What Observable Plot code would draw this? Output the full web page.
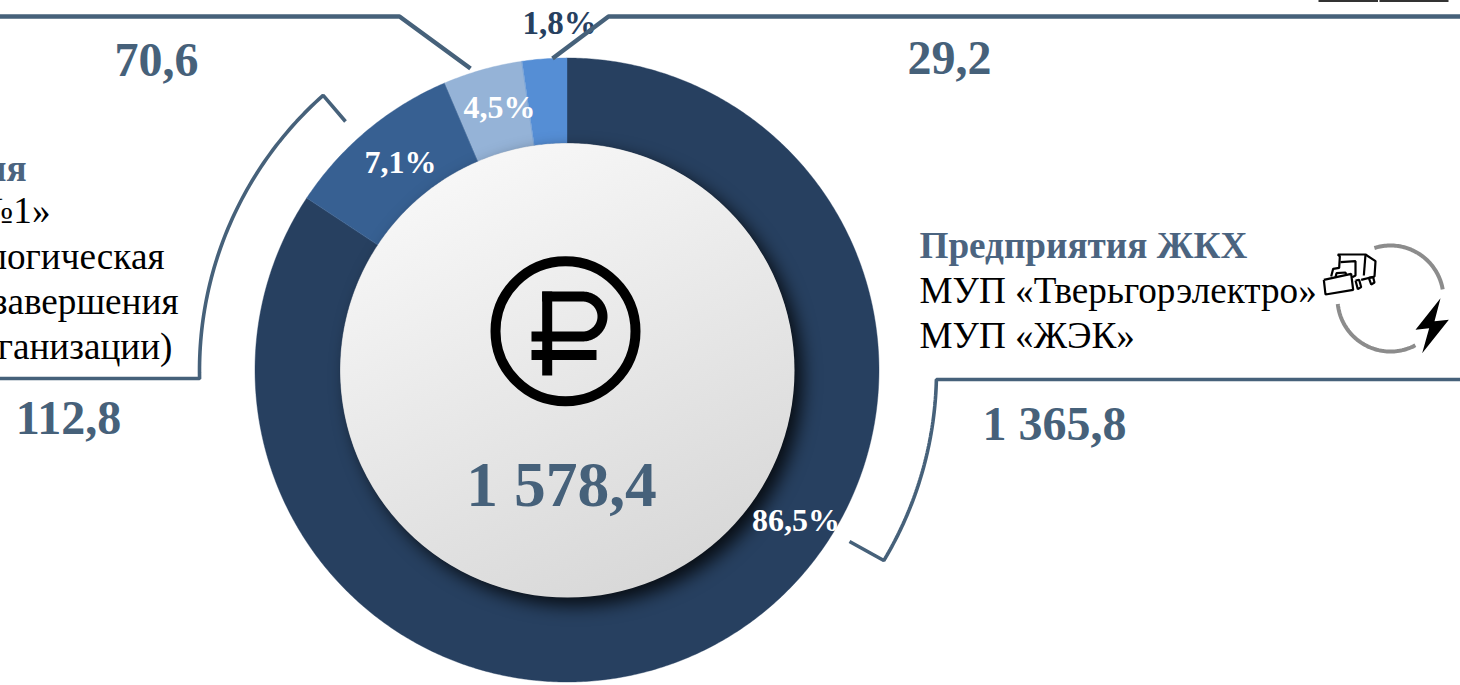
<!DOCTYPE html>
<html lang="ru">
<head>
<meta charset="utf-8">
<script src="https://cdn.jsdelivr.net/npm/d3@7"></script>
<script src="https://cdn.jsdelivr.net/npm/@observablehq/plot@0.6"></script>
<style>
html,body{margin:0;padding:0;background:#fff;overflow:hidden}
svg{display:block}
svg [fill="url(#disk)"]{filter:drop-shadow(8px 8px 9px rgba(0,0,0,.8))}
</style>
</head>
<body>
<div id="chart"></div>
<script>
// --- Data ---
const amounts = [1365.8, 112.8, 70.6, 29.2];
const amountLabels = ["1 365,8", "112,8", "70,6", "29,2"];
const percentLabels = ["86,5%", "7,1%", "4,5%", "1,8%"];
const drawnShares = [84.3, 9.3, 4.1, 2.3]; // arc shares as drawn in the picture
const sliceColors = ["#274060", "#376092", "#95B3D7", "#558ED5"];
const totalLabel = "1 578,4";
const rightLines = ["Предприятия ЖКХ", "МУП «Тверьгорэлектро»", "МУП «ЖЭК»"];
const leftLines = ["ия", "№1»", "технологическая", "завершения", "организации)"];

// --- Layout ---
const W = 1460, H = 685, cx = 567, cy = 370, rOut = 312, rIn = 227, rLead = 369;
const ink = "#46617A", serif = "Liberation Serif";
const polar = (r, deg, c = [cx, cy]) => [c[0] + r * Math.sin(deg * Math.PI / 180), c[1] - r * Math.cos(deg * Math.PI / 180)];
const arc = (r, a, b, c) => d3.range(0, 61).map(i => polar(r, a + (b - a) * i / 60, c));

let cum = 0;
const ringRows = drawnShares.flatMap((s, i) => {
  const a = cum * 3.6, b = (cum + s) * 3.6; cum += s;
  const n = Math.max(2, Math.ceil((b - a) * 2));
  return d3.range(n + 1).map(k => {
    const t = a + (b - a) * k / n, p = polar(rIn, t), q = polar(rOut, t);
    return {slice: amountLabels[i], amount: amounts[i], x1: p[0], y1: p[1], x2: q[0], y2: q[1]};
  });
});

const leaders = [
  {w: 4.4, pts: [[-5, 16], [399, 16], [470, 68]]},
  {w: 4.4, pts: [[552, 58], [608, 16], [1465, 16]]},
  {w: 3.6, pts: [[-5, 378], [199, 378], ...arc(368, -91.2, -41.6), [345, 121]]},
  {w: 3.6, pts: [[1465, 379], [936, 379], ...arc(rLead, 91.5, 121), [849, 541]]}
];

const bowl = arc(20, 0, 180, [582, 316]);
const rubleStrokes = [
  [[546.7, 291], [546.7, 375]],
  [[541.7, 296], ...bowl, [531, 336]],
  [[531, 354.5], [596, 354.5]]
];
const z = (X, Y) => [1300 + X / 3, 230 + Y / 3];
const truck = [
  [z(70,148), z(152,130), z(158,178), z(75,192), z(70,148)],
  [z(92,138), z(98,115), z(116,112), z(118,78), z(112,72), z(195,72), z(225,92), z(222,138), z(182,148)],
  [z(120,95), z(165,92), z(165,135), z(155,140)],
  [z(105,140), z(108,128), z(135,126), z(138,135)],
  [z(195,72), z(190,135)],
  [z(165,150), z(172,176), z(182,170), z(176,148), z(165,150)],
  [z(205,142), z(212,162), z(222,156), z(218,140), z(205,142)]
];
const bolt = [z(420,203), z(345,298), z(386,293), z(365,368), z(445,268), z(402,272)];
const ringArcs = [arc(53, -17.7, 80, [1390, 298]), arc(53, 152, 264, [1390, 298])];

const lineMark = (pts, o) => Plot.line(pts, {x: d => d[0], y: d => d[1], curve: "linear", strokeLinejoin: "miter", strokeLinecap: "butt", ...o});
const textMark = (t, x, y, o) => Plot.text([t], {x: () => x, y: () => y, text: d => d, lineAnchor: "bottom", fontFamily: serif, ...o});

const defs = () => {
  const s = d3.create("svg:defs");
  const g = s.append("linearGradient").attr("id", "disk").attr("x1", .2).attr("y1", .05).attr("x2", .65).attr("y2", 1);
  g.append("stop").attr("offset", 0).attr("stop-color", "#f8f8f8");
  g.append("stop").attr("offset", 1).attr("stop-color", "#d8d8d8");
  return s.node();
};

const valuePos = [[1054, 439], [68, 433], [156, 75], [949, 73]];
const percentPos = [[795.5, 530], [400, 172], [499, 117], [559, 33]];
const rightBase = [257, 302, 347];
const leftEnd = [26, 50, 164, 178, 172], leftBase = [180, 222, 268, 313, 358];

const chart = Plot.plot({
  width: W, height: H, margin: 0,
  style: {background: "#fff", overflow: "hidden"},
  x: {domain: [0, W], range: [0, W], axis: null},
  y: {domain: [0, H], range: [0, H], axis: null},
  color: {domain: amountLabels, range: sliceColors},
  marks: [
    defs,
    Plot.area(ringRows, {x1: "x1", y1: "y1", x2: "x2", y2: "y2", z: "slice", fill: "slice", stroke: "slice", strokeWidth: 0.4, curve: "linear"}),
    Plot.dot([[cx, cy]], {x: d => d[0], y: d => d[1], r: rIn, fill: "url(#disk)"}),
    // ruble icon
    Plot.dot([[565, 330.7]], {x: d => d[0], y: d => d[1], r: 70, stroke: "#000", strokeWidth: 10, fill: "none"}),
    ...rubleStrokes.map(p => lineMark(p, {stroke: "#000", strokeWidth: 10})),
    // texts
    textMark(totalLabel, 561, 505, {fontSize: 63.5, fontWeight: "bold", fill: ink}),
    ...amountLabels.map((t, i) => textMark(t, valuePos[i][0], valuePos[i][1], {fontSize: 48, fontWeight: "bold", fill: ink})),
    ...percentLabels.map((t, i) => textMark(t, percentPos[i][0], percentPos[i][1], {fontSize: i === 3 ? 33 : 32, fontWeight: "bold", fill: i === 3 ? "#274060" : "#fff"})),
    ...rightLines.map((t, i) => textMark(t, 919, rightBase[i], {fontSize: 37.2, textAnchor: "start", fontWeight: i ? "normal" : "bold", fill: i ? "#000" : "#4B6480"})),
    ...leftLines.map((t, i) => textMark(t, leftEnd[i], leftBase[i], {fontSize: 37.2, textAnchor: "end", fontWeight: i ? "normal" : "bold", fill: i ? "#000" : "#4B6480"})),
    // leader lines
    ...leaders.map(l => lineMark(l.pts, {stroke: ink, strokeWidth: l.w})),
    // clipped remnant at the top edge
    lineMark([[1318, 0], [1377.5, 0]], {stroke: "#333", strokeWidth: 3}),
    lineMark([[1379, 0], [1448, 0]], {stroke: "#333", strokeWidth: 3}),
    // service icon
    ...ringArcs.map(p => lineMark(p, {stroke: "#8C8C8C", strokeWidth: 4})),
    ...truck.map(p => lineMark(p, {stroke: "#000", strokeWidth: 2.2})),
    lineMark(bolt, {fill: "#000", stroke: "none"})
  ]
});
document.getElementById("chart").append(chart);
</script>
</body>
</html>
